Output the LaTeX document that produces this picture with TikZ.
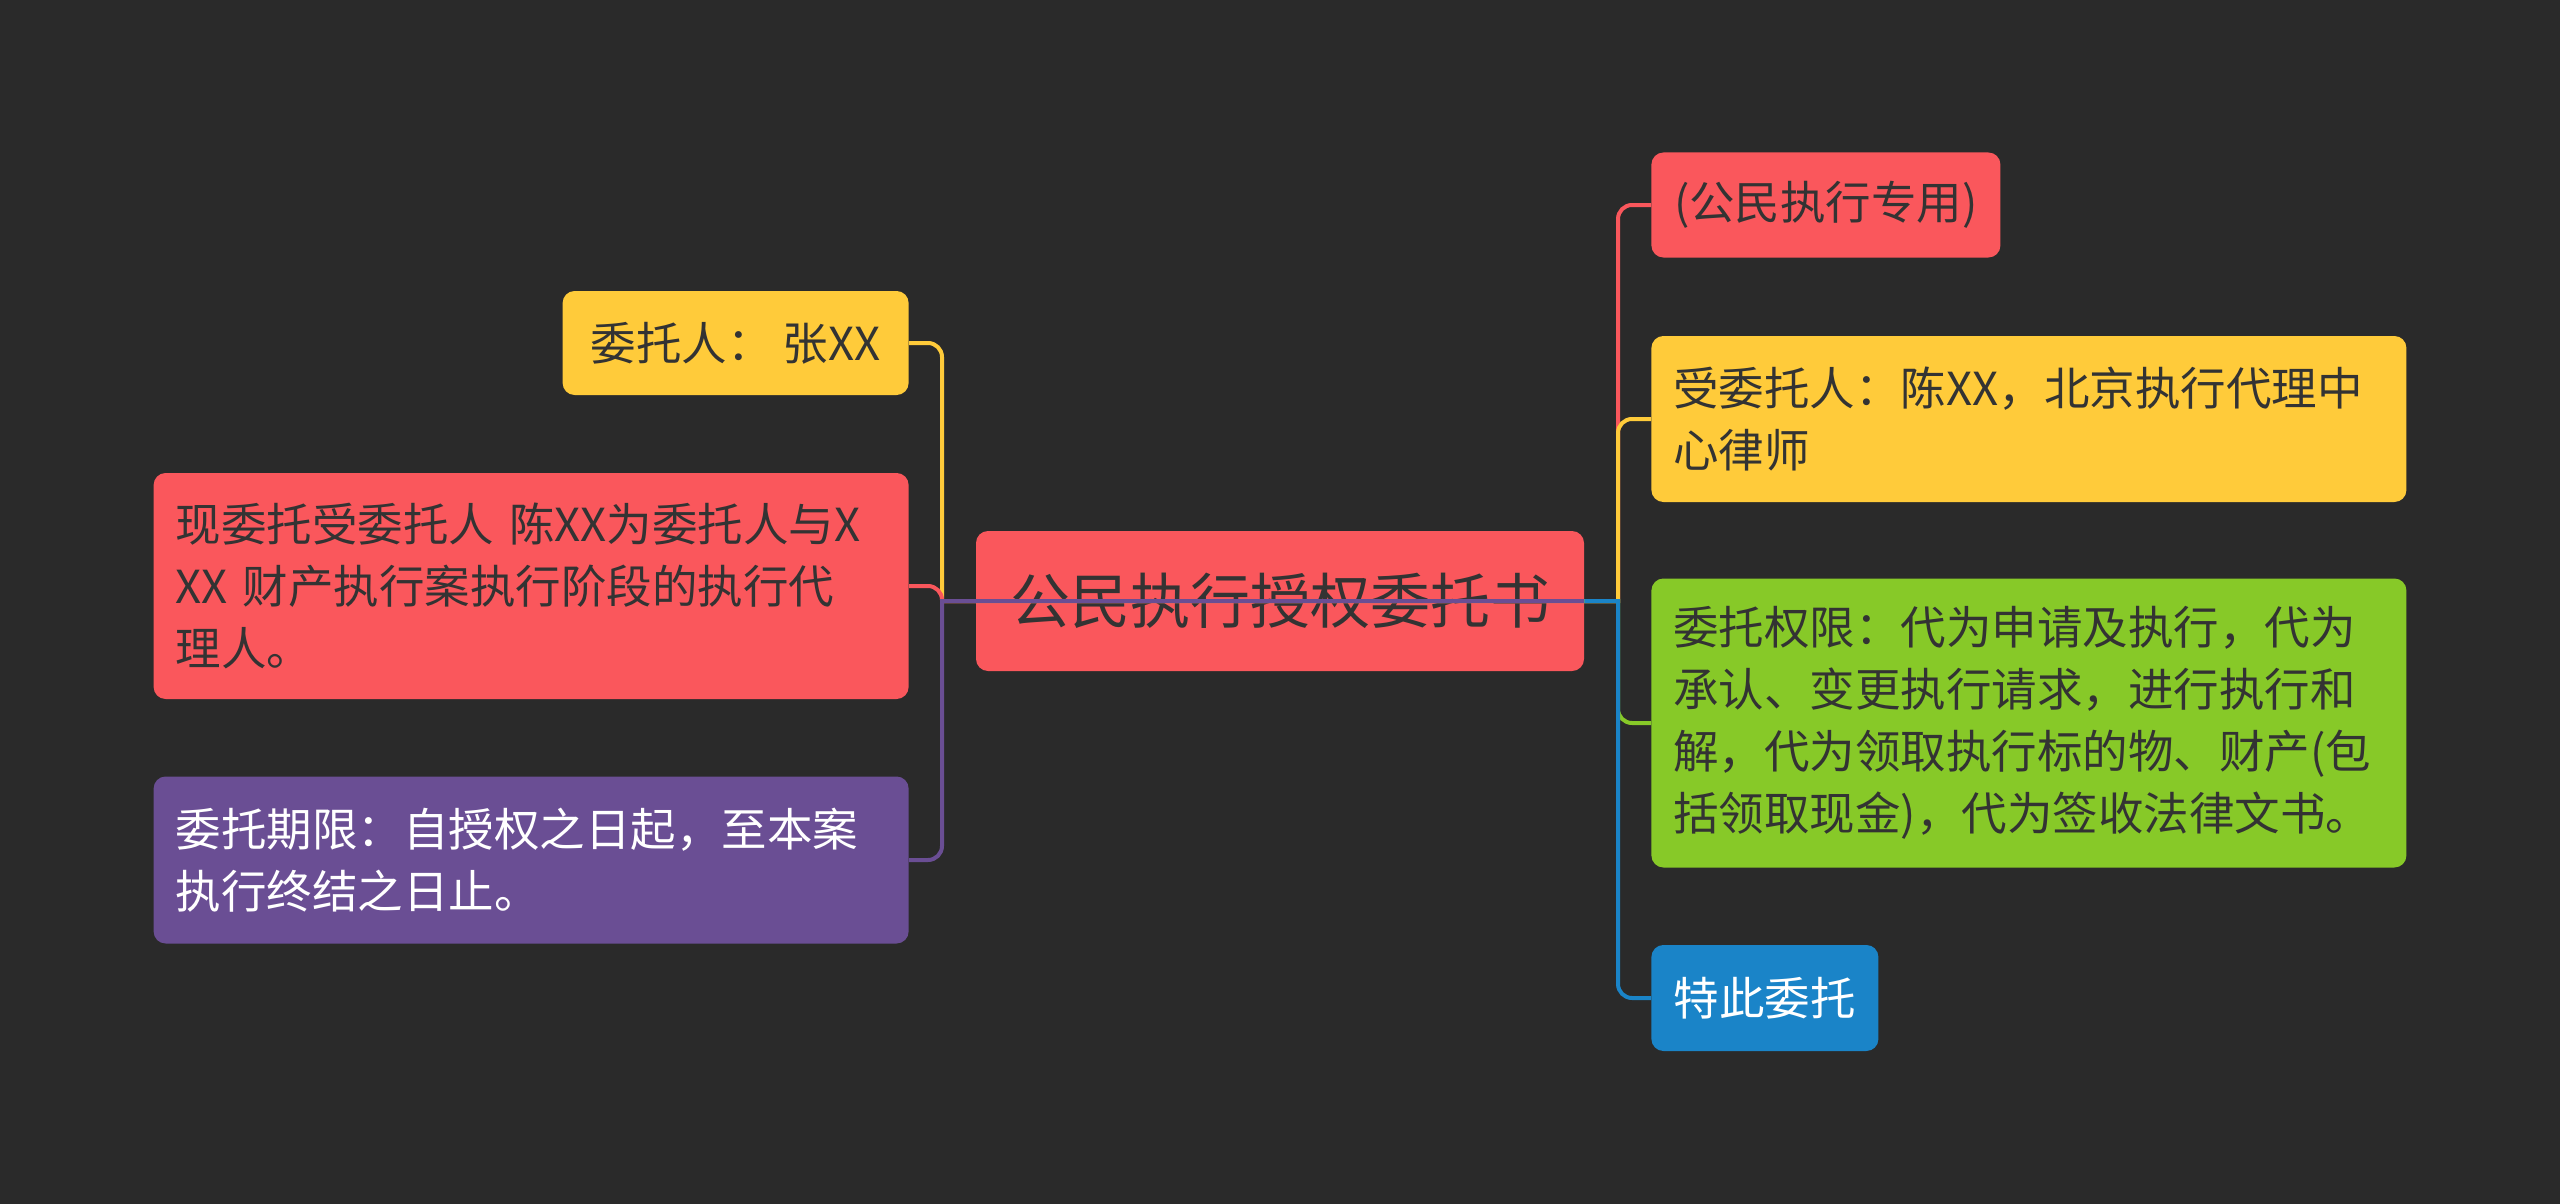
\documentclass[tikz,border=0pt]{standalone}
\usepackage{fontspec}
\newfontfamily\cjk{Noto Sans CJK SC}
\usepackage{tikz}
\definecolor{bgdark}{RGB}{42,42,42}
\definecolor{mred}{RGB}{250,87,92}
\definecolor{myellow}{RGB}{255,203,58}
\definecolor{mpurple}{RGB}{106,78,148}
\definecolor{mgreen}{RGB}{135,201,40}
\definecolor{mblue}{RGB}{26,132,200}
\definecolor{mtext}{RGB}{51,51,51}

\begin{document}
\begin{tikzpicture}[x=0.5pt, y=-0.5pt,
        node root/.style = {rectangle, rounded corners=6pt, fill=mred, text=mtext, font=\cjk\fontsize{30}{36}\selectfont, minimum width=304pt, minimum height=70pt, inner sep=0pt},
        node leaf/.style = {rectangle, rounded corners=6pt, text=mtext, font=\cjk\fontsize{22.75}{31}\selectfont, inner xsep=11pt, inner ysep=0pt},
        node wide/.style = {node leaf, text width=355.5pt, align=left},
        edge link/.style = {line width=2pt},
        ]
        \fill[bgdark] (0,0) rectangle (2560,1204);

        \node[node root] (root) at (1280,601) {公民执行授权委托书};

        % Left nodes
        \node[node leaf, fill=myellow, anchor=east, minimum width=173pt, minimum height=52pt] (lyellow) at (909,343) {委托人： 张XX};
        \node[node wide, fill=mred, anchor=east, minimum height=113pt] (lred) at (909,586) {现委托受委托人 陈XX为委托人与X\\XX 财产执行案执行阶段的执行代\\理人。};
        \node[node wide, fill=mpurple, text=white, anchor=east, minimum height=83.5pt] (lpurple) at (909,860) {委托期限：自授权之日起，至本案\\执行终结之日止。};

        % Right nodes
        \node[node leaf, fill=mred, anchor=west, minimum width=174.5pt, minimum height=52.5pt] (rred) at (1651,205) {(公民执行专用)};
        \node[node wide, fill=myellow, anchor=west, minimum height=83pt] (ryellow) at (1651,419) {受委托人：陈XX，北京执行代理中\\心律师};
        \node[node wide, fill=mgreen, anchor=west, minimum height=144.5pt] (rgreen) at (1651,723) {委托权限：代为申请及执行，代为\\承认、变更执行请求，进行执行和\\解，代为领取执行标的物、财产(包\\括领取现金)，代为签收法律文书。};
        \node[node leaf, fill=mblue, text=white, anchor=west, minimum width=113.5pt, minimum height=53pt] (rblue) at (1651,998) {特此委托};

        \coordinate (ltrunk) at (942,601);
        \coordinate (rtrunk) at (1618,601);

        % Edges to left nodes
        \draw[edge link, myellow] (root.east) -- (ltrunk) [rounded corners=7pt] |- (lyellow.east);
        \draw[edge link, mred] (root.east) -- (ltrunk) [rounded corners=7pt] |- (lred.east);
        \draw[edge link, mpurple] (root.east) -- (ltrunk) [rounded corners=7pt] |- (lpurple.east);

        % Edges to right nodes
        \draw[edge link, mred] (root.east) -- (rtrunk) [rounded corners=7pt] |- (rred.west);
        \draw[edge link, myellow] (root.east) -- (rtrunk) [rounded corners=7pt] |- (ryellow.west);
        \draw[edge link, mgreen] (root.east) -- (rtrunk) [rounded corners=7pt] |- (rgreen.west);
        \draw[edge link, mblue] (root.east) -- (rtrunk) [rounded corners=7pt] |- (rblue.west);
    \end{tikzpicture}
\end{document}
